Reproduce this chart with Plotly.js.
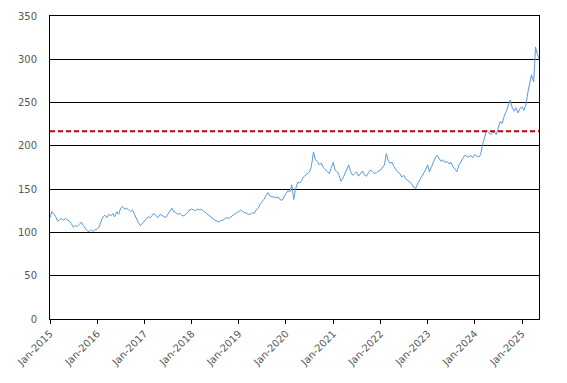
<!DOCTYPE html>
<html>
<head>
<meta charset="utf-8">
<script src="https://cdn.plot.ly/plotly-3.0.1.min.js"></script>
<style>html,body{margin:0;padding:0;background:#fff;}#chart{width:567px;height:383px;}</style>
</head>
<body>
<div id="chart"></div>
<script>
// Semi-monthly readings (1st and 15th of each month), Jan-2015 .. May-2025
const startYear = 2015;
const values = [
  // 2015
  117,124, 121,118, 113,115, 116,114, 116,115, 113,110, 106,108, 107,109, 112,108, 104,102, 101,103, 101,103,
  // 2016
  104,106, 113,118, 120,117, 121,119, 122,118, 124,121, 128,130, 127,128, 126,124, 126,121, 115,111, 108,110,
  // 2017
  113,116, 118,117, 120,122, 119,117, 121,120, 118,117, 121,124, 128,124, 123,121, 122,120, 119,121, 123,126,
  // 2018
  127,126, 125,127, 126,127, 125,123, 121,119, 118,116, 114,113, 112,114, 114,116, 117,116, 118,120, 121,123,
  // 2019
  124,126, 124,123, 122,121, 121,123, 122,126, 128,133, 136,138, 143,146, 142,141, 141,140, 141,138, 137,141,
  // 2020
  145,148, 147,155, 138,150, 158,157, 160,164, 166,168, 170,176, 193,184, 182,178, 180,175, 172,170, 168,174,
  // 2021
  181,172, 170,166, 159,162, 168,172, 178,170, 166,168, 170,165, 169,171, 166,165, 169,172, 170,168, 169,171,
  // 2022
  172,175, 178,191, 183,180, 181,176, 172,170, 168,164, 166,162, 160,158, 156,152, 151,156, 160,164, 168,172,
  // 2023
  178,170, 176,182, 186,189, 185,182, 184,181, 182,179, 181,176, 173,170, 178,182, 185,189, 188,187, 189,186,
  // 2024
  190,188, 187,190, 201,210, 218,216, 213,215, 216,213, 222,228, 226,234, 240,247, 253,245, 240,244, 238,243,
  // 2025
  245,241, 248,262, 272,282, 274,314, 305,300
];
const refLevel = 217;
const tickYears = [2015,2016,2017,2018,2019,2020,2021,2022,2023,2024,2025];
const yTicks = [0,50,100,150,200,250,300,350];

const dates = values.map((v,i) => {
  const m = Math.floor(i/2);
  const y = startYear + Math.floor(m/12);
  const mo = (m % 12) + 1;
  const d = (i % 2 === 0) ? '01' : '15';
  return y + '-' + String(mo).padStart(2,'0') + '-' + d;
});

const font = {family: 'DejaVu Sans, Verdana, sans-serif', size: 10, color: '#595959'};

Plotly.newPlot('chart', [{
  x: dates, y: values, type: 'scatter', mode: 'lines',
  line: {color: '#5B9BD5', width: 1}, hoverinfo: 'skip'
}], {
  width: 567, height: 383,
  margin: {l: 50, r: 28, t: 16, b: 64},
  paper_bgcolor: '#fff', plot_bgcolor: '#fff',
  showlegend: false, font: font,
  xaxis: {
    type: 'date', range: ['2015-01-01', '2025-05-12'],
    tickvals: tickYears.map(y => y + '-01-01'),
    ticktext: tickYears.map(y => 'Jan-' + y),
    tickangle: -45, ticks: 'outside', ticklen: 4, tickcolor: '#000',
    showgrid: false, showline: true, linecolor: '#000', linewidth: 1, mirror: true,
    zeroline: false, tickfont: font
  },
  yaxis: {
    range: [0, 350], tickvals: yTicks, ticks: '', ticklabelstandoff: 10,
    showgrid: true, gridcolor: '#000', gridwidth: 1,
    showline: true, linecolor: '#000', linewidth: 1, mirror: true,
    zeroline: false, tickfont: font
  },
  shapes: [{
    type: 'line', xref: 'paper', x0: 0, x1: 1, yref: 'y', y0: refLevel, y1: refLevel,
    line: {color: '#C00000', width: 2, dash: '5px,3px'}
  }]
}, {staticPlot: true});
</script>
</body>
</html>
